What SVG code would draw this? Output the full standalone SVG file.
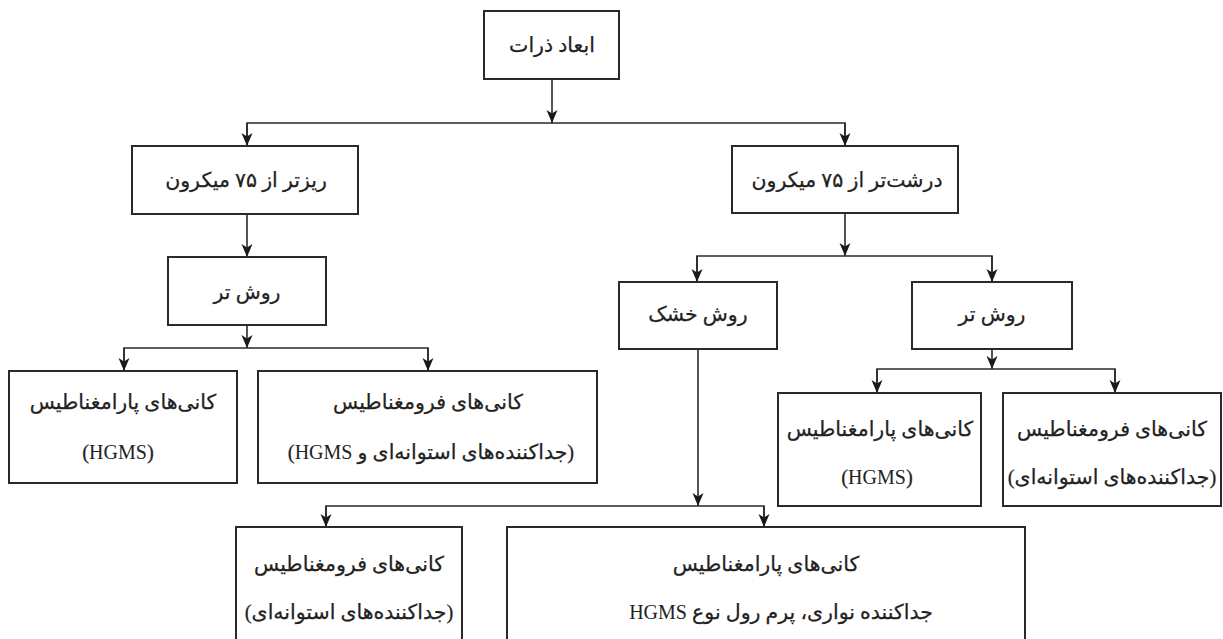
<svg xmlns="http://www.w3.org/2000/svg" width="1223" height="639" viewBox="0 0 1223 639">
<style>
  .box { fill: #ffffff; stroke: #2a2a2a; stroke-width: 2; }
  .t { font-family: "Liberation Serif", "DejaVu Sans", serif; font-size: 20.5px; fill: #222; stroke: #222; stroke-width: 0.25; text-anchor: middle; direction: rtl; }
  .lat { font-family: "Liberation Serif", serif; font-size: 20px; stroke-width: 0; }
  .c { fill: none; stroke: #2a2a2a; stroke-width: 1.6; }
  .ca { fill: none; stroke: #2a2a2a; stroke-width: 1.6; marker-end: url(#ah); }
</style>
<defs>
  <marker id="ah" markerUnits="userSpaceOnUse" viewBox="0 0 13 12" refX="13" refY="6" markerWidth="13" markerHeight="12" orient="auto">
    <path d="M0,0.5 L13,6 L0,11.5 L3.5,6 Z" fill="#1a1a1a"/>
  </marker>
</defs>
<rect width="1223" height="639" fill="#ffffff"/>

<g id="connectors">
  <line class="ca" x1="552" y1="79" x2="552" y2="123"/>
  <polyline class="c" points="247,146 247,123 845,123 845,146"/>
  <line class="ca" x1="247" y1="123" x2="247" y2="146"/>
  <line class="ca" x1="845" y1="123" x2="845" y2="146"/>

  <line class="ca" x1="247" y1="214" x2="247" y2="257"/>
  <line class="ca" x1="247" y1="325" x2="247" y2="348"/>
  <polyline class="c" points="124,371 124,348 428,348 428,371"/>
  <line class="ca" x1="124" y1="348" x2="124" y2="371"/>
  <line class="ca" x1="428" y1="348" x2="428" y2="371"/>

  <line class="ca" x1="845" y1="213" x2="845" y2="256"/>
  <polyline class="c" points="697,282 697,256 992,256 992,282"/>
  <line class="ca" x1="697" y1="256" x2="697" y2="282"/>
  <line class="ca" x1="992" y1="256" x2="992" y2="282"/>

  <line class="ca" x1="992" y1="349" x2="992" y2="369"/>
  <polyline class="c" points="877,393 877,369 1115,369 1115,393"/>
  <line class="ca" x1="877" y1="369" x2="877" y2="393"/>
  <line class="ca" x1="1115" y1="369" x2="1115" y2="393"/>

  <line class="ca" x1="698" y1="349" x2="698" y2="506"/>
  <polyline class="c" points="326,527 326,506 764,506 764,527"/>
  <line class="ca" x1="326" y1="506" x2="326" y2="527"/>
  <line class="ca" x1="764" y1="506" x2="764" y2="527"/>
</g>

<g id="n-size">
  <rect class="box" x="484" y="11" width="135" height="68"/>
  <text class="t" x="552" y="52">ابعاد ذرات</text>
</g>
<g id="n-fine">
  <rect class="box" x="132" y="146" width="226" height="68"/>
  <text class="t" x="246" y="187">ریزتر از ۷۵ میکرون</text>
</g>
<g id="n-coarse">
  <rect class="box" x="732" y="146" width="226" height="67"/>
  <text class="t" x="847" y="187">درشت‌تر از ۷۵ میکرون</text>
</g>
<g id="n-fine-wet">
  <rect class="box" x="168" y="257" width="158" height="68"/>
  <text class="t" x="247" y="299">روش تر</text>
</g>
<g id="n-coarse-dry">
  <rect class="box" x="619" y="282" width="158" height="67"/>
  <text class="t" x="698" y="321">روش خشک</text>
</g>
<g id="n-coarse-wet">
  <rect class="box" x="912" y="282" width="160" height="67"/>
  <text class="t" x="992" y="321">روش تر</text>
</g>
<g id="n-fine-para">
  <rect class="box" x="9" y="371" width="228" height="112"/>
  <text class="t" x="123" y="409">کانی‌های پارامغناطیس</text>
  <text class="t" x="118" y="459">(<tspan class="lat">HGMS</tspan>)</text>
</g>
<g id="n-fine-ferro">
  <rect class="box" x="258" y="371" width="339" height="112"/>
  <text class="t" x="428" y="409">کانی‌های فرومغناطیس</text>
  <text class="t" x="431" y="459">(جداکننده‌های استوانه‌ای و <tspan class="lat">HGMS</tspan>)</text>
</g>
<g id="n-coarse-para">
  <rect class="box" x="778" y="393" width="203" height="113"/>
  <text class="t" x="880" y="436">کانی‌های پارامغناطیس</text>
  <text class="t" x="877" y="484">(<tspan class="lat">HGMS</tspan>)</text>
</g>
<g id="n-coarse-ferro">
  <rect class="box" x="1003" y="393" width="218" height="113"/>
  <text class="t" x="1112" y="436">کانی‌های فرومغناطیس</text>
  <text class="t" x="1112" y="484">(جداکننده‌های استوانه‌ای)</text>
</g>
<g id="n-dry-ferro">
  <rect class="box" x="236" y="527" width="226" height="140"/>
  <text class="t" x="349" y="571">کانی‌های فرومغناطیس</text>
  <text class="t" x="349" y="619">(جداکننده‌های استوانه‌ای)</text>
</g>
<g id="n-dry-para">
  <rect class="box" x="507" y="527" width="518" height="140"/>
  <text class="t" x="766" y="571">کانی‌های پارامغناطیس</text>
  <text class="t" x="781" y="619">جداکننده نواری، پرم رول نوع <tspan class="lat">HGMS</tspan></text>
</g>
</svg>
